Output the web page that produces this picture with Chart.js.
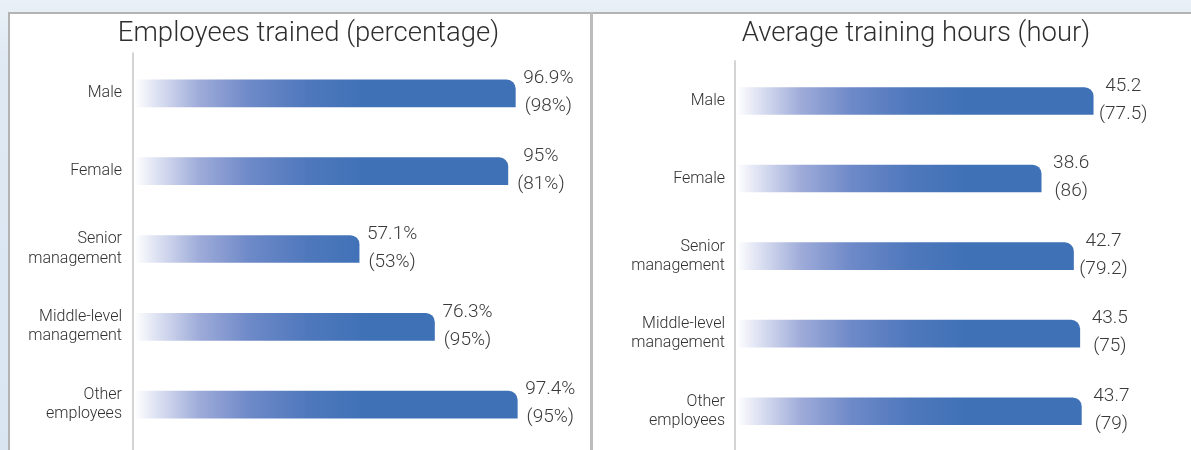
<!DOCTYPE html>
<html>
<head>
<meta charset="utf-8">
<script src="https://cdn.jsdelivr.net/npm/chart.js@4.4.1/dist/chart.umd.min.js"></script>
<style>
  html, body { margin: 0; padding: 0; }
  body { width: 1191px; height: 450px; overflow: hidden; position: relative;
         background: linear-gradient(to bottom, #e9f0f7 0px, #dfe9f3 60px, #d9e6f2 450px); }
  .panel { position: absolute; background: #ffffff; box-sizing: border-box; }
  #lp { left: 8px; top: 12px; width: 582px; height: 440px; border-top: 2px solid #b3b3b3; border-left: 2px solid #b3b3b3; }
  #div { position: absolute; left: 590px; top: 12px; width: 3px; height: 440px; background: #bcbcbc; }
  #rp { left: 593px; top: 12px; width: 598px; height: 440px; border-top: 2px solid #b3b3b3; }
  canvas { position: absolute; top: 0; }
  #c1 { left: 0px; }
  #c2 { left: 593px; }
</style>
</head>
<body>
<div class="panel" id="lp"></div>
<div id="div"></div>
<div class="panel" id="rp"></div>
<canvas id="c1" width="617" height="450"></canvas>
<canvas id="c2" width="646" height="450"></canvas>
<script>
// ---- data ----
const categories = [["Male"], ["Female"], ["Senior", "management"], ["Middle-level", "management"], ["Other", "employees"]];
const trainedPct = [96.9, 95, 57.1, 76.3, 97.4];
const trainedPctPrev = [98, 81, 53, 95, 95];
const avgHours = [45.2, 38.6, 42.7, 43.5, 43.7];
const avgHoursPrev = [77.5, 86, 79.2, 75, 79];
const titles = ["Employees trained (percentage)", "Average training hours (hour)"];

function barGradient(context) {
  const chart = context.chart;
  const a = chart.chartArea;
  if (!a) return '#3f71b7';
  const g = chart.ctx.createLinearGradient(a.left, 0, a.left + 230, 0);
  g.addColorStop(0, '#ffffff');
  g.addColorStop(0.08, '#e2e6f4');
  g.addColorStop(0.28, '#9eabd9');
  g.addColorStop(0.5, '#6d89c8');
  g.addColorStop(0.75, '#4f78bc');
  g.addColorStop(1, '#3f71b7');
  return g;
}

function makeLabelPlugin(prev, suffix, dx) {
  return {
    id: 'valueLabels',
    afterDatasetsDraw(chart) {
      const ctx = chart.ctx;
      const meta = chart.getDatasetMeta(0);
      const vals = chart.data.datasets[0].data;
      ctx.save();
      ctx.font = '300 19px Roboto';
      ctx.fillStyle = '#3a3a3a';
      ctx.textAlign = 'center';
      ctx.textBaseline = 'middle';
      meta.data.forEach((bar, i) => {
        const x = bar.x + dx;
        ctx.fillText(vals[i] + suffix, x, bar.y - 15);
        ctx.fillText('(' + prev[i] + suffix + ')', x, bar.y + 13);
      });
      ctx.restore();
    }
  };
}

const axisLinePlugin = {
  id: 'axisLine',
  beforeDatasetsDraw(chart) {
    const a = chart.chartArea;
    const ctx = chart.ctx;
    ctx.save();
    ctx.strokeStyle = '#d4d4d4';
    ctx.lineWidth = 2;
    ctx.beginPath();
    ctx.moveTo(a.left - 2, a.top - 2);
    ctx.lineTo(a.left - 2, chart.height);
    ctx.stroke();
    ctx.restore();
  }
};

function makeChart(id, values, prev, suffix, xmax, pad, yWidth, titlePadBottom, dx, title, tickPad) {
  return new Chart(document.getElementById(id), {
    type: 'bar',
    data: {
      labels: categories,
      datasets: [{
        data: values,
        backgroundColor: barGradient,
        borderWidth: 0,
        borderRadius: { topLeft: 0, topRight: 9, bottomLeft: 0, bottomRight: 0 },
        borderSkipped: false,
        barThickness: 27
      }]
    },
    options: {
      indexAxis: 'y',
      responsive: false,
      animation: false,
      devicePixelRatio: 1,
      layout: { padding: pad },
      plugins: {
        legend: { display: false },
        tooltip: { enabled: false },
        title: {
          display: true,
          text: title,
          color: '#2e2e2e',
          font: { family: 'Roboto', size: 27.5, weight: 300, lineHeight: 1.2 },
          padding: { top: 10, bottom: titlePadBottom }
        }
      },
      scales: {
        x: { display: false, min: 0, max: xmax },
        y: {
          grid: { display: false, drawTicks: false },
          border: { display: false },
          ticks: {
            color: '#2f2f2f',
            font: { family: 'Roboto', size: 16, weight: 300, lineHeight: 1.2 },
            padding: tickPad
          },
          afterFit(scale) {
            scale.width = yWidth;
            scale.paddingTop = 0;
            scale.paddingBottom = 0;
          }
        }
      }
    },
    plugins: [axisLinePlugin, makeLabelPlugin(prev, suffix, dx)]
  });
}

makeChart('c1', trainedPct, trainedPctPrev, '%', 122.8,
  { left: 0, right: 0, top: 8, bottom: 6.5 }, 135, 3.5, 33, titles[0], 13);
makeChart('c2', avgHours, avgHoursPrev, '', 63.7,
  { left: 0, right: 0, top: 8, bottom: 0 }, 144, 11.2, 30, titles[1], 12);
</script>
</body>
</html>
